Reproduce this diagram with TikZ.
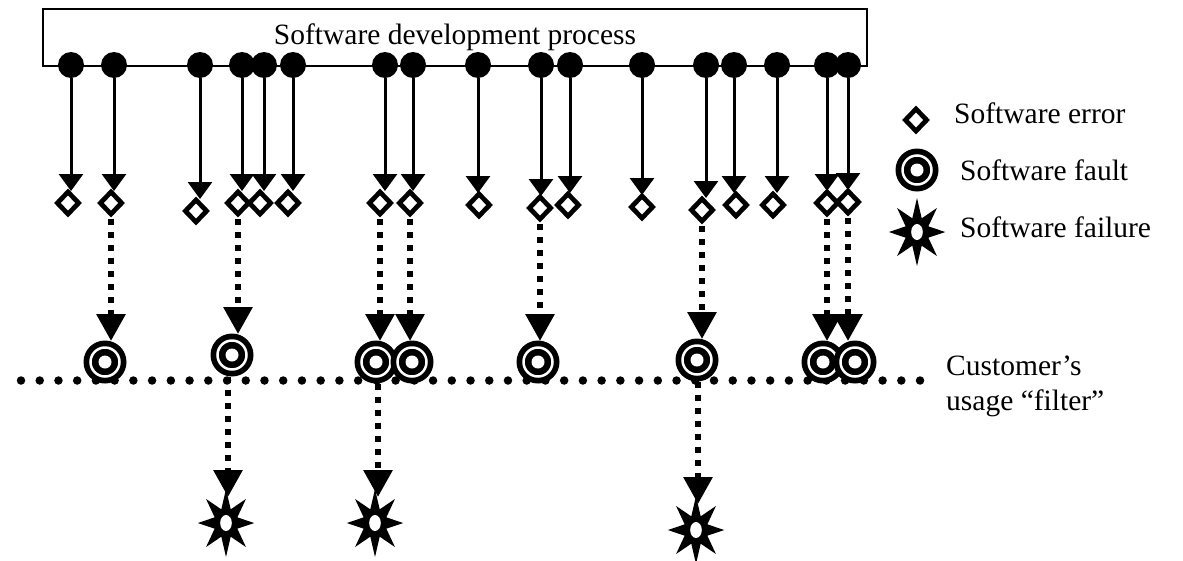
\documentclass[tikz,border=0pt]{standalone}
\usepackage{fontspec}
\setmainfont{Liberation Serif}
\usetikzlibrary{arrows.meta,shapes.geometric}
\begin{document}
\begin{tikzpicture}[x=1pt,y=-1pt,
  txt/.style={font=\fontsize{29.5}{35}\selectfont, inner sep=0pt},
  procbox/.style={draw, line width=2pt, minimum width=824pt, minimum height=57pt, inner sep=0pt, font=\fontsize{29.5}{35}\selectfont},
  pdot/.style={circle, fill=black, minimum size=26pt, inner sep=0pt},
  err/.style={diamond, fill=black, minimum width=28pt, minimum height=29pt, inner sep=0pt,
    path picture={\fill[white] ([yshift=7.5pt]path picture bounding box.center) -- ([xshift=7pt]path picture bounding box.center)
       -- ([yshift=-7.5pt]path picture bounding box.center) -- ([xshift=-7pt]path picture bounding box.center) -- cycle;}},
  fault/.style={circle, fill=black, minimum size=43pt, inner sep=0pt,
    path picture={\draw[white,line width=2.5pt] (path picture bounding box.center) circle (14.5pt);
                  \fill[white] (path picture bounding box.center) circle (6.5pt);}},
  failure/.style={star, star points=8, star point ratio=2.3, fill=black, minimum size=68pt, inner sep=0pt, xscale=0.83,
    path picture={\fill[white] (path picture bounding box.center) ellipse (7pt and 8pt);}},
  solidarr/.style={line width=3pt, -{Triangle[length=17pt,width=24pt]}},
  dotarr/.style={line width=6pt, dash pattern=on 6pt off 7pt, -{Triangle[length=27pt,width=28pt]}},
  filterline/.style={line width=8.5pt, line cap=round, dash pattern=on 0pt off 18.73pt}
]
\useasboundingbox (0,0) rectangle (1183,560);

% development process box
\node[procbox] (proc) at (455,37.5) {Software development process};

% customer's usage filter
\coordinate (fl) at (21,380.5);
\coordinate (fr) at (921,380.5);
\draw[filterline] (fl) -- (fr);

% process points, errors and solid arrows
\foreach \i/\x/\ex/\ey in {1/71/68/203, 2/114/111/203, 3/200/196/211, 4/242/238/203,
  5/264/260/203, 6/293/288/203, 7/385/380/203, 8/413/410/203, 9/478/479/205,
  10/541/540/208, 11/570/568/205, 12/642/642/207, 13/706/702/210, 14/734/736/205,
  15/777/773/205, 16/827/827/203, 17/848/848/202} {
  \node[pdot] (p\i) at (\x,65) {};
  \node[err] (e\i) at (\ex,\ey) {};
  \draw[solidarr, shorten >=12pt] (p\i) -- (p\i |- e\i.center);
}

% errors to faults
\foreach \e/\y in {2/341, 4/334, 7/341, 8/341, 10/341, 13/339, 16/341, 17/341} {
  \draw[dotarr] ([yshift=-16pt]e\e.center) -- (e\e.center |- {0,\y});
}
\node[fault] (f1) at (105,362) {};
\node[fault] (f2) at (232,355) {};
\node[fault] (f3) at (376,362) {};
\node[fault] (f4) at (412,362) {};
\node[fault] (f5) at (538,362) {};
\node[fault] (f6) at (697,360) {};
\node[fault] (f7) at (823,362) {};
\node[fault] (f8) at (855,362) {};

% failures
\node[failure] (s1) at (226,523) {};
\node[failure] (s2) at (375,523) {};
\node[failure] (s3) at (696,530) {};
\draw[dotarr, shorten >=26pt] ([xshift=-4pt]f2.south) -- ([xshift=-4pt]f2.south |- s1.center);
\draw[dotarr, shorten >=26pt] ([xshift=2pt]f3.south) -- ([xshift=2pt]f3.south |- s2.center);
\draw[dotarr, shorten >=26pt] ([xshift=1pt]f6.south) -- ([xshift=1pt]f6.south |- s3.center);

% legend
\node[err] (le) at (916,120) {};
\node[fault] (lf) at (917,170) {};
\node[failure] (ls) at (917,232) {};
\node[txt, anchor=base west] (t1) at (954,123) {Software error};
\node[txt, anchor=base west] (t2) at (960,180) {Software fault};
\node[txt, anchor=base west] (t3) at (960,237) {Software failure};
\node[txt, anchor=base west] (c1) at (946,375) {Customer’s};
\node[txt, anchor=base west] (c2) at (946,410) {usage “filter”};
\end{tikzpicture}
\end{document}
